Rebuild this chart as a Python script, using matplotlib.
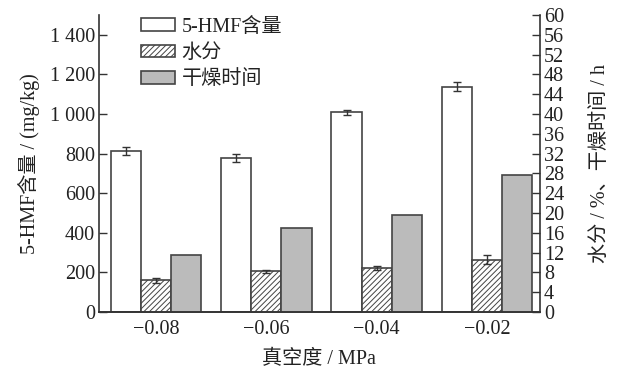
import matplotlib
matplotlib.use("Agg")
import matplotlib.pyplot as plt
from matplotlib.patches import Patch
import numpy as np

# Vacuum levels and measured values
vacuum_labels = ["\u22120.08", "\u22120.06", "\u22120.04", "\u22120.02"]
hmf = [815, 776, 1008, 1138]          # mg/kg
hmf_err = [20, 20, 12, 22]
moisture = [6.4, 8.2, 8.95, 10.6]     # %
moisture_err = [0.45, 0.25, 0.4, 0.95]
drying_time = [11.5, 17.0, 19.5, 27.7]  # h

legend_labels = ["5-HMF含量", "水分", "干燥时间"]

FONT = ["Liberation Serif", "Noto Sans CJK SC"]
plt.rcParams["font.family"] = FONT
plt.rcParams["hatch.linewidth"] = 0.7
plt.rcParams["hatch.color"] = "#333333"

edge = "#444444"
txt = "#222222"
fs = 14.5

fig = plt.figure(figsize=(6.2, 3.74), dpi=100)
ax = fig.add_axes([0.1597, 0.1658, 0.711, 0.794])
ax2 = ax.twinx()

x = np.arange(len(vacuum_labels))
w = 0.273

ax.bar(x - w, hmf, w, color="white", edgecolor=edge, linewidth=1.2,
       yerr=hmf_err, capsize=3, error_kw=dict(ecolor="#333333", elinewidth=1.0, capthick=1.0))
ax2.bar(x, moisture, w, color="white", edgecolor=edge, linewidth=1.2, hatch="//////",
        yerr=moisture_err, capsize=3, error_kw=dict(ecolor="#333333", elinewidth=1.0, capthick=1.0))
ax2.bar(x + w, drying_time, w, color="#bbbbbb", edgecolor=edge, linewidth=1.2)

ax.set_xlim(-0.518, 3.48)
ax.set_ylim(0, 1500)
ax2.set_ylim(0, 60)

ax.set_yticks(np.arange(0, 1401, 200))
ax.set_yticklabels([f"{v:,}".replace(",", " ") for v in range(0, 1401, 200)])
ax2.set_yticks(np.arange(0, 61, 4))
ax.set_xticks(x)
ax.set_xticklabels(vacuum_labels)

for a in (ax, ax2):
    a.spines["top"].set_visible(False)
    for s in a.spines.values():
        s.set_color("#333333")
        s.set_linewidth(1.2)
    a.tick_params(axis="y", direction="in", length=6, width=1.0, colors="#333333",
                  labelsize=fs, labelcolor=txt, pad=3)
ax.tick_params(axis="x", length=0, labelsize=fs, labelcolor=txt, pad=6)
ax2.spines["left"].set_visible(False)
ax.spines["right"].set_visible(False)

ax.set_xlabel("真空度 / MPa", fontsize=fs, color=txt, labelpad=8)
ax.set_ylabel("5-HMF含量 / (mg/kg)", fontsize=fs, color=txt, labelpad=7)
ax2.set_ylabel("水分 / %、干燥时间 / h", fontsize=fs, color=txt, labelpad=19)

handles = [
    Patch(facecolor="white", edgecolor=edge, linewidth=1.2),
    Patch(facecolor="white", edgecolor=edge, linewidth=1.2, hatch="//////"),
    Patch(facecolor="#bbbbbb", edgecolor=edge, linewidth=1.2),
]
ax2.legend(handles, legend_labels, loc="upper left", bbox_to_anchor=(0.078, 1.018),
           frameon=False, fontsize=fs, handlelength=1.65, handleheight=0.6,
           handletextpad=0.35, labelspacing=0.36, borderaxespad=0.0,
           labelcolor=txt)

fig.savefig("out.png", dpi=100)
